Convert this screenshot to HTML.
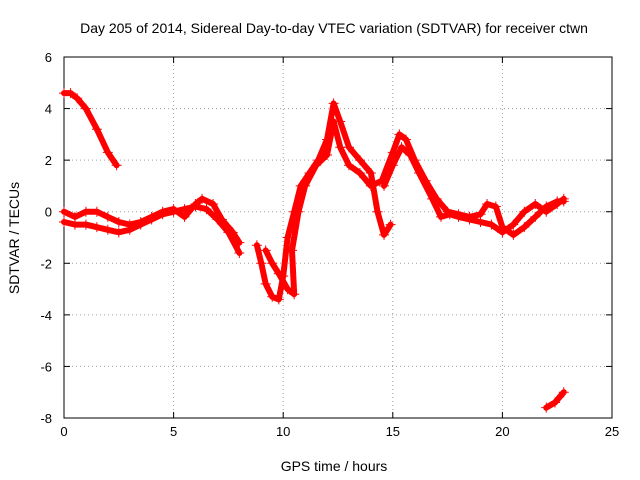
<!DOCTYPE html>
<html><head><meta charset="utf-8"><style>
body{margin:0;background:#fff}
svg{display:block;font-family:"Liberation Sans",sans-serif}
</style></head><body>
<svg id="chart" width="640" height="480">
<text x="334" y="33" font-size="14" text-anchor="middle">Day 205 of 2014, Sidereal Day-to-day VTEC variation (SDTVAR) for receiver ctwn</text>
<text x="334" y="471" font-size="14" text-anchor="middle">GPS time / hours</text>
<text transform="translate(19,238) rotate(-90)" font-size="14" text-anchor="middle">SDTVAR / TECUs</text>
<g id="grid"></g><g id="axes"></g><g id="marks"></g>
</svg>
<script>
const xTicks=[0,5,10,15,20,25];
const yTicks=[-8,-6,-4,-2,0,2,4,6];
const trackA=[[0,4.6],[0.3,4.6],[0.6,4.4],[1,4.0],[1.5,3.2],[2,2.3],[2.4,1.8]];
const trackB=[[0,-0.4],[0.5,-0.5],[1,-0.5],[1.5,-0.6],[2,-0.7],[2.5,-0.8],[3,-0.7],[3.5,-0.5],[4,-0.3],[4.5,-0.1],[5,0],[5.5,0.1],[6,0.2],[6.5,0.1],[7,-0.3],[7.5,-0.8],[8,-1.6]];
const trackC=[[0,0],[0.5,-0.2],[1,0],[1.5,0],[2,-0.2],[2.5,-0.4],[3,-0.5],[3.5,-0.4],[4,-0.2],[4.5,0],[5,0.1],[5.5,-0.2],[6,0.3],[6.3,0.5],[6.8,0.3],[7.2,-0.3],[7.7,-0.8],[8,-1.2]];
const trackD=[[8.8,-1.3],[9,-2],[9.2,-2.8],[9.5,-3.3],[9.8,-3.4],[10,-2.5],[10.2,-1],[10.5,0],[10.8,1],[11.2,1.5],[11.6,2],[12,2.8],[12.3,4.2],[12.6,3.5],[13,2.5],[13.5,2],[14,1.5],[14.3,0],[14.6,-0.9],[14.9,-0.5]];
const trackE=[[9.2,-1.5],[9.5,-2],[9.8,-2.4],[10.2,-3],[10.5,-3.2],[10.4,-1.5],[10.7,0],[11,1],[11.5,1.8],[12,2.2],[12.3,3.5],[12.6,2.5],[13,1.8],[13.5,1.5],[14,1.0],[14.5,1.2],[15,2.3],[15.3,3.0],[15.6,2.8],[16,2],[16.5,1.2],[17,0.5],[17.5,0],[18,-0.1],[18.5,-0.2],[19,-0.1],[19.3,0.3],[19.7,0.2],[20,-0.6],[20.5,-0.9],[21,-0.6],[21.5,-0.2],[22,0.2],[22.5,0.4],[22.8,0.4]];
const trackF=[[14.6,1],[15,1.8],[15.4,2.5],[15.8,2.2],[16.2,1.5],[16.8,0.5],[17.2,-0.2],[17.6,-0.1],[18,-0.2],[18.5,-0.3],[19,-0.4],[19.5,-0.5],[20,-0.8],[20.5,-0.5],[21,0],[21.5,0.3],[22,0],[22.5,0.3],[22.8,0.5]];
const trackG=[[22,-7.6],[22.4,-7.4],[22.8,-7.0]];
const tracks=[trackA,trackB,trackC,trackD,trackE,trackF,trackG];
const L=64,R=612,T=57,B=418;
const sx=v=>L+(v-0)/25*(R-L);
const sy=v=>B-(v+8)/14*(B-T);
const NS="http://www.w3.org/2000/svg";
function mk(p,tag,at){const e=document.createElementNS(NS,tag);for(const k in at)e.setAttribute(k,at[k]);p.appendChild(e);return e;}
const grid=document.getElementById('grid'),axes=document.getElementById('axes'),marks=document.getElementById('marks');
xTicks.forEach(t=>{const x=sx(t);
 if(t>0&&t<25){const g=mk(grid,'line',{x1:x,x2:x,y1:T,y2:B,stroke:'#a0a0a0','stroke-dasharray':'1,3'});
 
 }
 mk(axes,'line',{x1:x,x2:x,y1:B,y2:B-6,stroke:'#000'});mk(axes,'line',{x1:x,x2:x,y1:T,y2:T+6,stroke:'#000'});
 const tx=mk(axes,'text',{x:x,y:B+18,'font-size':13,'text-anchor':'middle'});tx.textContent=t;
 
 
});
yTicks.forEach(t=>{const y=sy(t);
 if(t>-8&&t<6){const g=mk(grid,'line',{x1:L,x2:R,y1:y,y2:y,stroke:'#a0a0a0','stroke-dasharray':'1,3'});
 
 }
 mk(axes,'line',{x1:L,x2:L+6,y1:y,y2:y,stroke:'#000'});mk(axes,'line',{x1:R,x2:R-6,y1:y,y2:y,stroke:'#000'});
 const tx=mk(axes,'text',{x:L-12,y:y+5,'font-size':13,'text-anchor':'end'});tx.textContent=t;
 
 
});
const frame=mk(axes,'rect',{x:L,y:T,width:R-L,height:B-T,fill:'none',stroke:'#000'});


tracks.forEach(tr=>{
 const d=tr.map((p,i)=>(i?'L':'M')+sx(p[0]).toFixed(1)+','+sy(p[1]).toFixed(1)).join('');
 const pl=mk(marks,'path',{d:d,fill:'none',stroke:'#ff0000','stroke-width':6,'stroke-linejoin':'round','stroke-linecap':'round'});
 
 
 tr.forEach(p=>{const x=sx(p[0]),y=sy(p[1]);
  const m=mk(marks,'path',{d:`M${x-5},${y}H${x+5}M${x},${y-5}V${y+5}`,stroke:'#ff0000','stroke-width':1});
  
  
 });
});
</script>
</body></html>
